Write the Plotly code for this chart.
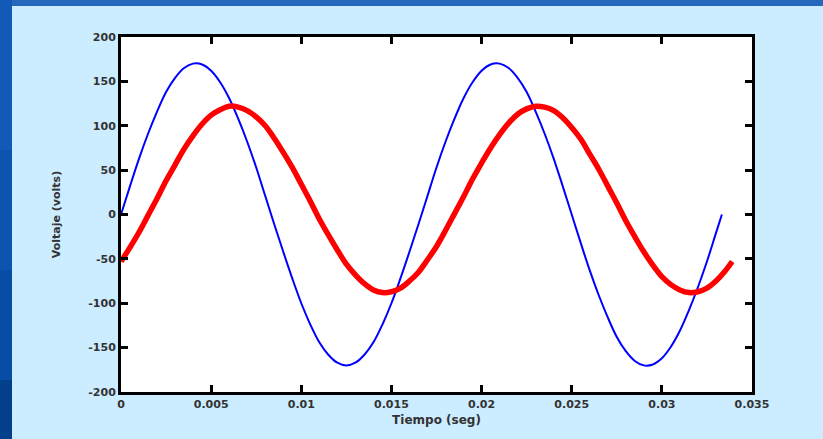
import plotly.graph_objects as go

t_blue = [0, 0.0005, 0.001, 0.0015, 0.002, 0.0025, 0.003, 0.0035, 0.004, 0.0045,
          0.005, 0.0055, 0.006, 0.0065, 0.007, 0.0075, 0.008, 0.0085, 0.009, 0.0095,
          0.010, 0.0105, 0.011, 0.0115, 0.012, 0.0125, 0.013, 0.0135, 0.014, 0.0145,
          0.015, 0.0155, 0.016, 0.0165, 0.017, 0.0175, 0.018, 0.0185, 0.019, 0.0195,
          0.020, 0.0205, 0.021, 0.0215, 0.022, 0.0225, 0.023, 0.0235, 0.024, 0.0245,
          0.025, 0.0255, 0.026, 0.0265, 0.027, 0.0275, 0.028, 0.0285, 0.029, 0.0295,
          0.030, 0.0305, 0.031, 0.0315, 0.032, 0.0325, 0.033, 0.03333]
v_blue = [0, 32, 63, 91, 116, 138, 154, 165, 170, 169,
          162, 149, 131, 108, 82, 53, 21, -11, -42, -72,
          -100, -124, -144, -158, -167, -170, -167, -158, -144, -124,
          -100, -72, -42, -11, 21, 53, 82, 108, 131, 149,
          162, 169, 170, 165, 154, 138, 116, 91, 63, 32,
          0, -32, -63, -91, -116, -138, -154, -165, -170, -169,
          -162, -149, -131, -108, -82, -53, -21, 0]

t_red = [0, 0.0005, 0.001, 0.0015, 0.002, 0.0025, 0.003, 0.0035, 0.004, 0.0045,
         0.005, 0.0055, 0.006, 0.0065, 0.007, 0.0075, 0.008, 0.0085, 0.009, 0.0095,
         0.010, 0.0105, 0.011, 0.0115, 0.012, 0.0125, 0.013, 0.0135, 0.014, 0.0145,
         0.015, 0.0155, 0.016, 0.0165, 0.017, 0.0175, 0.018, 0.0185, 0.019, 0.0195,
         0.020, 0.0205, 0.021, 0.0215, 0.022, 0.0225, 0.023, 0.0235, 0.024, 0.0245,
         0.025, 0.0255, 0.026, 0.0265, 0.027, 0.0275, 0.028, 0.0285, 0.029, 0.0295,
         0.030, 0.0305, 0.031, 0.0315, 0.032, 0.0325, 0.033, 0.0335, 0.0339]
v_red = [-53, -37, -20, -1, 18, 38, 56, 74, 89, 102,
         112, 118, 122, 121, 117, 110, 100, 86, 70, 53,
         34, 15, -5, -23, -40, -56, -68, -78, -85, -88,
         -87, -83, -75, -65, -51, -36, -18, 1, 20, 40,
         58, 75, 90, 103, 113, 119, 122, 121, 117, 109,
         98, 85, 68, 51, 32, 13, -7, -25, -42, -57,
         -70, -79, -85, -88, -87, -83, -75, -64, -53]

x_tickvals = [0, 0.005, 0.01, 0.015, 0.02, 0.025, 0.03, 0.035]
x_ticktext = ["0", "0.005", "0.01", "0.015", "0.02", "0.025", "0.03", "0.035"]
y_tickvals = [-200, -150, -100, -50, 0, 50, 100, 150, 200]
y_ticktext = ["-200", "-150", "-100", "-50", "0", "50", "100", "150", "200"]

x_title = "Tiempo (seg)"
y_title = "Voltaje (volts)"

# ---- layout constants ----
W, H = 823, 439
ML, MR, MT, MB = 121, 71, 37, 47
PW, PH = W - ML - MR, H - MT - MB


def px_to_paper_x(p):
    return (p - ML) / PW


def px_to_paper_y(p):
    return (H - MB - p) / PH


fig = go.Figure()
fig.add_trace(go.Scatter(x=t_blue, y=v_blue, mode="lines",
                         line=dict(color="#0000FF", width=2, shape="spline", smoothing=1.0),
                         showlegend=False, hoverinfo="skip"))
fig.add_trace(go.Scatter(x=t_red, y=v_red, mode="lines",
                         line=dict(color="#FF0000", width=5.5, shape="spline", smoothing=1.0),
                         showlegend=False, hoverinfo="skip"))

tickfont = dict(family="DejaVu Sans", size=11, color="#333333", weight="bold")
axis_common = dict(showline=True, linecolor="black", linewidth=3, mirror="ticks",
                   ticks="inside", ticklen=7, tickwidth=2.5, tickcolor="black",
                   showgrid=False, zeroline=False, tickfont=tickfont)

fig.update_xaxes(range=[0, 0.035], tickmode="array", tickvals=x_tickvals, ticktext=x_ticktext,
                 title=dict(text=x_title, standoff=6,
                            font=dict(family="DejaVu Sans", size=12, color="#333333", weight="bold")),
                 **axis_common)
fig.update_yaxes(range=[-200, 200], tickmode="array", tickvals=y_tickvals, ticktext=y_ticktext,
                 title=dict(text=y_title, standoff=26,
                            font=dict(family="DejaVu Sans", size=11, color="#333333", weight="bold")),
                 **axis_common)

shapes = []
# top dark strip
shapes.append(dict(type="rect", xref="paper", yref="paper", layer="below",
                   x0=px_to_paper_x(0), x1=px_to_paper_x(W), y0=px_to_paper_y(6), y1=px_to_paper_y(0),
                   fillcolor="#2568BE", line=dict(width=0)))
# left strip bands
bands = [(0, 150, "#1259B8"), (150, 270, "#0C54B0"), (270, 380, "#084DA5"), (380, H, "#023F8C")]
for a, b, c in bands:
    shapes.append(dict(type="rect", xref="paper", yref="paper", layer="below",
                       x0=px_to_paper_x(0), x1=px_to_paper_x(12), y0=px_to_paper_y(b), y1=px_to_paper_y(a),
                       fillcolor=c, line=dict(width=0)))

fig.update_layout(width=W, height=H,
                  margin=dict(l=ML, r=MR, t=MT, b=MB, autoexpand=False),
                  paper_bgcolor="#CCECFF", plot_bgcolor="white",
                  shapes=shapes, showlegend=False)

fig.write_html("out.html", config={"displayModeBar": False},
               post_script="document.body.style.margin='0';document.body.style.background='#CCECFF';document.body.style.overflow='hidden';")
